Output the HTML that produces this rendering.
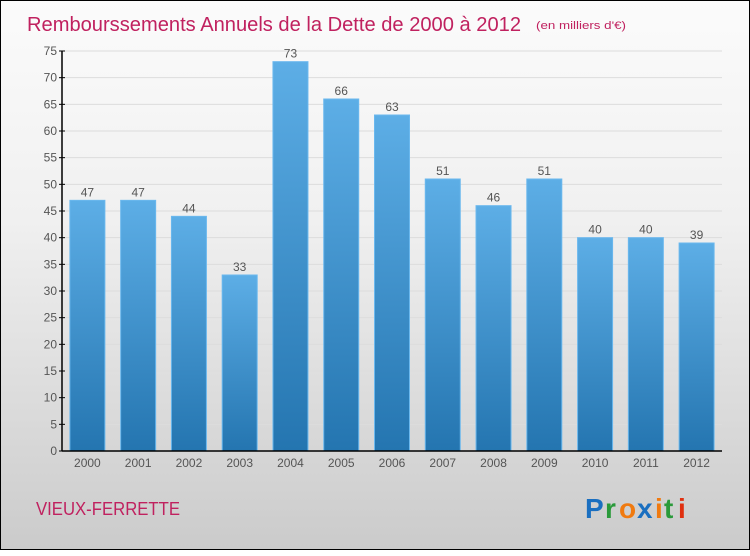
<!DOCTYPE html>
<html><head><meta charset="utf-8"><style>
body{margin:0;width:750px;height:550px;overflow:hidden;font-family:"Liberation Sans",sans-serif}
#frame{position:absolute;left:0;top:0;width:748px;height:548px;border:1px solid #000;background:linear-gradient(#fbfbfb,#f0f0f0 40%,#cbcbcb)}
</style></head><body>
<div id="frame">
<svg width="750" height="550">
<defs><linearGradient id="bg" x1="0" y1="0" x2="0" y2="1"><stop offset="0" stop-color="#5daee6"/><stop offset="1" stop-color="#2475b0"/></linearGradient></defs>
<text x="26" y="30" font-size="20" fill="#c0215f" textLength="494" lengthAdjust="spacingAndGlyphs">Rembourssements Annuels de la Dette de 2000 à 2012</text>
<text x="535" y="28" font-size="11" fill="#c0215f" textLength="90" lengthAdjust="spacingAndGlyphs">(en milliers d'€)</text>
<g id="grid"></g><g id="bars"></g><g id="axes"></g>
<text x="35" y="514" font-size="18" fill="#c0215f" textLength="144" lengthAdjust="spacingAndGlyphs">VIEUX-FERRETTE</text>
<g font-size="28" font-weight="bold">
<text x="584" y="517" fill="#1a6fc0">P</text><text x="604" y="517" fill="#2a9a3a">r</text><text x="618" y="517" fill="#f07a10">o</text><text x="636" y="517" fill="#1a6fc0">x</text><text x="654" y="517" fill="#f07a10">i</text><text x="663" y="517" fill="#2a9a3a">t</text><text x="677" y="517" fill="#e03010">i</text>
</g>
</svg></div>
<script>
const categories=["2000","2001","2002","2003","2004","2005","2006","2007","2008","2009","2010","2011","2012"];
const values=[47,47,44,33,73,66,63,51,46,51,40,40,39];
const yTicks=[0,5,10,15,20,25,30,35,40,45,50,55,60,65,70,75];
const NS="http://www.w3.org/2000/svg";
const x0=61,x1=721,y0=450,yTop=50,yMax=75;
const y=v=>y0-(v/yMax)*(y0-yTop);
const step=(x1-x0)/categories.length;
const xc=i=>x0+step*(i+0.5);
function mk(t,a,p){const e=document.createElementNS(NS,t);for(const k in a)e.setAttribute(k,a[k]);p.appendChild(e);return e;}
const grid=document.getElementById('grid'),bars=document.getElementById('bars'),axes=document.getElementById('axes');
yTicks.forEach(v=>{
 const g=mk('line',{x1:x0,x2:x1,y1:y(v),y2:y(v),stroke:'#dcdcdc','stroke-width':1},grid);
 
 
 const tk=mk('line',{x1:x0-3,x2:x0+3,y1:y(v),y2:y(v),stroke:'#000'},axes);
 
 
 const t=mk('text',{x:x0-5,y:y(v)+4,'font-size':12,fill:'#555','text-anchor':'end'},axes);
 t.textContent=v;
 
 
});
categories.forEach((c,i)=>{
 const w=35,v=values[i];
 const r=mk('rect',{x:xc(i)-w/2,y:y(v),width:w,height:y0-y(v),fill:'url(#bg)',stroke:'#6ab8ee','stroke-width':1},bars);
 
 
 const vl=mk('text',{x:xc(i),y:y(v)-4,'font-size':12,fill:'#555','text-anchor':'middle'},bars);
 vl.textContent=v;
 
 
 const xl=mk('text',{x:xc(i),y:y0+16,'font-size':12,fill:'#555','text-anchor':'middle'},axes);
 xl.textContent=c;
 
 
});
const ya=mk('line',{x1:x0,x2:x0,y1:yTop,y2:y0,stroke:'#000','stroke-width':1.5},axes);


const xa=mk('line',{x1:x0,x2:x1,y1:y0,y2:y0,stroke:'#000','stroke-width':1.5},axes);


</script>
</body></html>
